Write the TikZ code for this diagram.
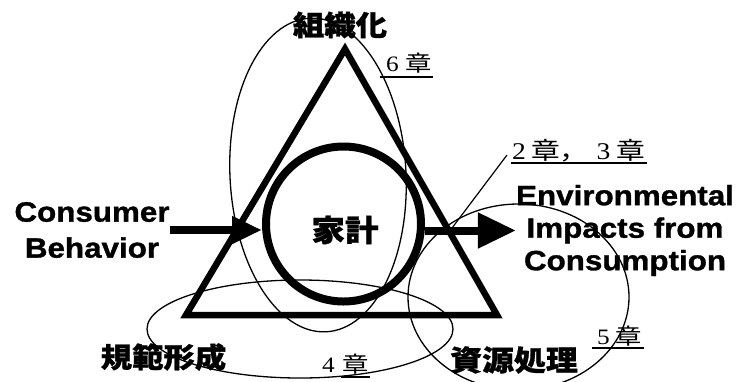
\documentclass[tikz,border=0pt]{standalone}
\usepackage{fontspec}
\setmainfont{Liberation Serif}
\newfontfamily\sansb[FakeStretch=1.12,FakeBold=1.2]{Liberation Sans}
\newfontfamily\cjkb[FakeStretch=1.12,FakeBold=1]{Noto Sans CJK JP}
\newfontfamily\cjkr[FakeStretch=1.2]{Noto Sans CJK JP}
\newfontfamily\serifs[FakeStretch=1.15]{Liberation Serif}
\usetikzlibrary{arrows.meta,calc}
\begin{document}
\begin{tikzpicture}[x=1pt,y=-1pt,
  tri/.style={line width=6.5pt,line join=miter},
  ring/.style={circle,draw,line width=8pt,minimum size=155pt,inner sep=0pt},
  ell/.style={line width=1.3pt},
  en/.style={font=\sansb\bfseries\fontsize{28}{36}\selectfont,align=center,inner sep=0pt},
  jp/.style={font=\cjkb\bfseries\fontsize{28}{34}\selectfont,inner sep=0pt},
  ch/.style={font=\serifs\fontsize{22}{26}\selectfont,inner sep=0pt,anchor=base west},
  uline/.style={line width=1.2pt},
  leader/.style={line width=1.2pt},
  bigL/.style={line width=8pt,-{Triangle[length=30pt 0 0,width=26pt 0 0]}},
  bigR/.style={line width=8pt,-{Triangle[length=38pt 0 0,width=34pt 0 0]}}
]
\useasboundingbox (0,0) rectangle (751,381);
% ellipses
\draw[ell,rotate around={3:(318,175)}] (318,175) ellipse [x radius=88,y radius=157];
\draw[ell] (300,329) ellipse [x radius=153,y radius=49];
\draw[ell] (518.5,297) ellipse [x radius=110.5,y radius=93];
% triangle
\draw[tri] (345,49) -- (186,315) -- (497,315) -- cycle;
% household circle
\node[ring] (hh) at (343.5,224) {};
\node[jp,font=\cjkb\bfseries\fontsize{30}{34}\selectfont] (kk) at (345,230) {家計};
% texts
\node[en] (cb) at (92,230) {Consumer\\Behavior};
\node[en,font=\sansb\bfseries\fontsize{28}{32.5}\selectfont] (env) at (625,230.5) {Environmental\\Impacts from\\Consumption};
\draw[bigL] (cb.east) -- (cb.east -| hh.west);
\draw[bigR] (hh.east |- env.west) -- (env.west);
\node[jp] (zsk) at (340,25) {組織化};
\node[jp] (kh) at (163.5,357) {規範形成};
\node[jp,font=\cjkb\bfseries\fontsize{28.5}{34}\selectfont] (sg) at (514,360) {資源処理};
% chapter labels
\node[ch] (c6) at (386,71) {6\hspace{7pt}{\cjkr 章}};
\node[ch] (c4) at (322,372) {4\hspace{8pt}{\cjkr 章}};
\node[ch] (c5) at (597,344) {5\hspace{6pt}{\cjkr 章}};
\node[ch,font=\serifs\fontsize{24}{28}\selectfont] (c23) at (512,159) {2\hspace{5pt}{\cjkr 章，}\hspace{8pt}3\hspace{6pt}{\cjkr 章}};
\draw[uline] ($(c6.base west)+(-6,6)$) -- ($(c6.base east)+(1,6)$);
\draw[uline] ($(c4.base east)+(-28,5)$) -- ($(c4.base east)+(1,5)$);
\draw[uline] ($(c5.base west)+(-5,4)$) -- ($(c5.base east)+(2,4)$);
\draw[uline] ($(c23.base west)+(-1,4)$) -- ($(c23.base east)+(2,4)$);
\coordinate (p1) at (507,155);
\coordinate (p2) at (452,228);
\draw[leader] (p1) -- (p2);
\end{tikzpicture}
\end{document}
